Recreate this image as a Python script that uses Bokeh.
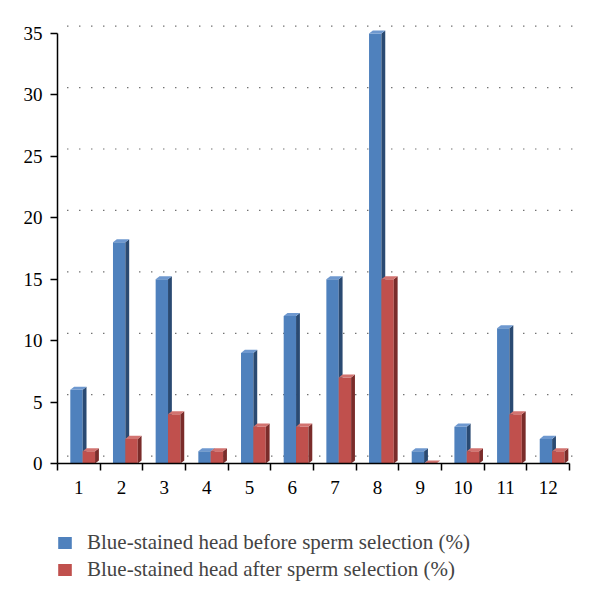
from bokeh.plotting import figure
from bokeh.models import Range1d, FixedTicker, Legend, LegendItem
from bokeh.layouts import column
from bokeh.embed import file_html
from bokeh.resources import INLINE

categories = [1, 2, 3, 4, 5, 6, 7, 8, 9, 10, 11, 12]
before = [6, 18, 15, 1, 9, 12, 15, 35, 1, 3, 11, 2]
after = [1, 2, 4, 1, 3, 3, 7, 15, 0, 1, 4, 1]
y_ticks = [0, 5, 10, 15, 20, 25, 30, 35]
series_names = ["Blue-stained head before sperm selection (%)",
                "Blue-stained head after sperm selection (%)"]
colors_front = ["#4F81BD", "#C0504D"]
colors_side = ["#2A4A72", "#7A2C2A"]
colors_top = ["#6E98CF", "#D27370"]

FONT = "Liberation Serif"
BAR_W = 0.29
DX = 0.09     # 3D depth in x (data units)
DY = 0.25     # 3D depth in y (data units)
GX = 0.23     # back-wall offset of gridlines
GY = 0.6

p = figure(width=600, height=508, x_range=Range1d(0.5, 12.755), y_range=Range1d(0, 36.06),
           output_backend="svg", toolbar_location=None,
           min_border_left=57, min_border_right=20, min_border_top=20, min_border_bottom=45)
p.outline_line_color = None
p.xgrid.visible = False
p.ygrid.visible = False

# dotted gridlines on the back wall
p.segment(x0=[0.5 + GX] * len(y_ticks), x1=[12.5 + 0.1] * len(y_ticks),
          y0=[t + GY for t in y_ticks], y1=[t + GY for t in y_ticks],
          line_color="#333333", line_width=1.2, line_dash="1 11")

def bar3d(offset, vals, front, side, top):
    left = [c + offset for c in categories]
    right = [l + BAR_W for l in left]
    r = p.quad(left=left, right=right, bottom=[0] * len(vals), top=vals,
               fill_color=front, line_color=None)
    sx = [[rr, rr + DX, rr + DX, rr] for rr in right]
    sy = [[0, DY, v + DY, v] for v in vals]
    p.patches(sx, sy, fill_color=side, line_color=None)
    tx = [[l, rr, rr + DX, l + DX] for l, rr in zip(left, right)]
    ty = [[v, v, v + DY, v + DY] for v in vals]
    p.patches(tx, ty, fill_color=top, line_color=None)
    return r

bar3d(-0.2, before, colors_front[0], colors_side[0], colors_top[0])
bar3d(-0.2 + BAR_W, after, colors_front[1], colors_side[1], colors_top[1])

# axes
xa = p.xaxis[0]
xa.ticker = FixedTicker(ticks=categories, minor_ticks=[c - 0.5 for c in categories] + [12.5])
xa.bounds = (0.5, 12.5)
xa.major_tick_out = 0
xa.major_tick_in = 0
xa.minor_tick_out = 7
xa.minor_tick_in = 0
xa.axis_line_width = 1.5
xa.minor_tick_line_width = 1.5
xa.major_label_text_font = FONT
xa.major_label_text_font_size = "19px"
xa.major_label_text_color = "black"
xa.major_label_standoff = 10

ya = p.yaxis[0]
ya.ticker = FixedTicker(ticks=y_ticks, minor_ticks=[])
ya.bounds = (0, 35)
ya.major_tick_out = 7
ya.major_tick_in = 0
ya.minor_tick_out = 0
ya.minor_tick_in = 0
ya.axis_line_width = 1.5
ya.major_tick_line_width = 1.5
ya.major_label_text_font = FONT
ya.major_label_text_font_size = "19px"
ya.major_label_text_color = "black"
ya.major_label_standoff = 8

# legend in a separate strip below
p2 = figure(width=600, height=98, x_range=Range1d(0, 1), y_range=Range1d(0, 1),
            output_backend="svg", toolbar_location=None,
            min_border_left=0, min_border_right=0, min_border_top=0, min_border_bottom=0)
p2.axis.visible = False
p2.grid.visible = False
p2.outline_line_color = None
nan = float("nan")
lr = [p2.quad(left=[nan], right=[nan], top=[nan], bottom=[nan], fill_color=c, line_color=None)
      for c in colors_front]
legend = Legend(items=[LegendItem(label=n, renderers=[r]) for n, r in zip(series_names, lr)],
                location=(-1, 24), orientation="vertical",
                label_text_font=FONT, label_text_font_size="21px",
                glyph_width=17, glyph_height=15, label_standoff=14,
                spacing=2, padding=0, margin=0,
                background_fill_alpha=0, border_line_color=None)
p2.add_layout(legend, "center")

open("out.html", "w").write(file_html(column(p, p2, spacing=0), INLINE))
